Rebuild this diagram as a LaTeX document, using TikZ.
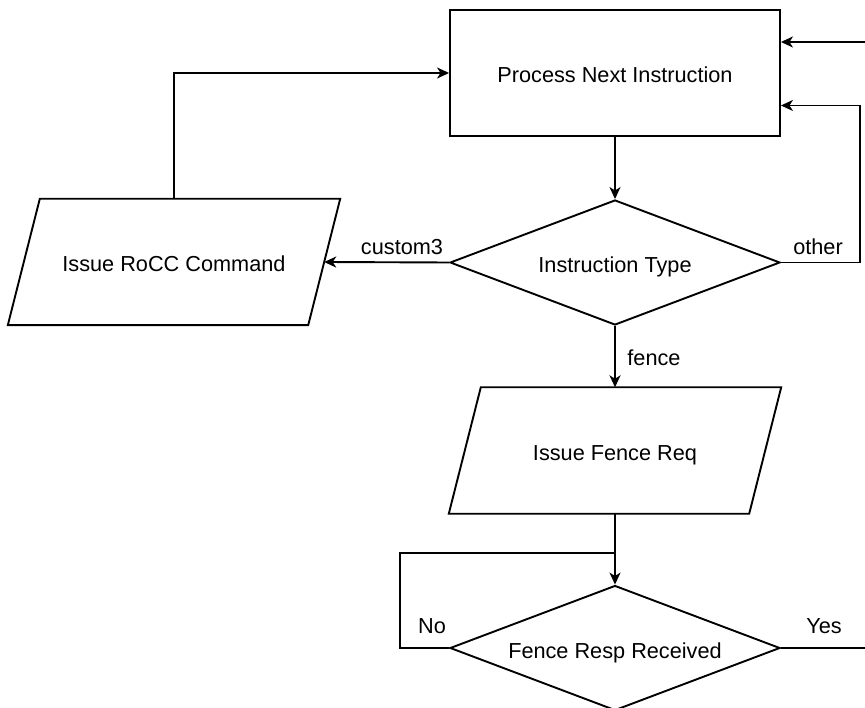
\documentclass[tikz,border=0pt]{standalone}
\usepackage{fontspec}
\setmainfont{Liberation Sans}
\usetikzlibrary{arrows.meta,calc,shapes.geometric}
\begin{document}
\begin{tikzpicture}[x=1pt,y=-1pt,
  every node/.style={font=\fontsize{21.7pt}{26pt}\selectfont},
  boxtext/.style={text height=20pt, text depth=0pt},
  conn/.style={line width=1.9pt, draw=black},
  flow/.style={conn, -{Stealth[length=12pt,width=11pt,inset=3.5pt]}},
  procbox/.style={boxtext, draw, line width=1.9pt, minimum width=330pt, minimum height=126pt, inner sep=0pt},
  decision/.style={boxtext, diamond, aspect=2.64, draw, line width=1.9pt, minimum width=330pt, minimum height=125pt, inner sep=0pt},
  iobox/.style={boxtext, minimum width=300pt, minimum height=126pt, inner sep=0pt},
  ioshape/.style={line width=1.9pt, line join=miter},
  lbl/.style={anchor=base, inner sep=0pt}]

\clip (0,0) rectangle (865,708);

% main nodes
\node[procbox] (pni) at (615,73) {Process Next Instruction};
\node[decision] (itype) at (615,262.5) {Instruction Type};
\node[iobox] (rocc) at (174,262) {Issue RoCC Command};
\node[iobox] (fence) at (615,450.5) {Issue Fence Req};
\node[decision] (resp) at (615,648) {Fence Resp Received};

% slanted outlines of the input/output boxes
\foreach \n in {rocc,fence}{
  \draw[ioshape] ([xshift=16pt]\n.north west) -- ([xshift=16pt]\n.north east)
     -- ([xshift=-16pt]\n.south east) -- ([xshift=-16pt]\n.south west) -- cycle;
}

% free ends at the right border
\coordinate (topin) at (865,42);
\coordinate (yesout) at (865,648);

% connectors
\draw[flow] (topin) -- (topin -| pni.east);
\draw[flow] (pni.south) -- (itype.north);
\draw[flow] (itype.west) -- (rocc.east);
\draw[flow] (rocc.north) |- (pni.west);
\draw[flow] (itype.east) -- ++(79,0) |- ($(pni.north east)!0.754!(pni.south east)$);
\draw[flow] (itype.south) -- (fence.north);
\draw[flow] (fence.south) -- (resp.north);
\draw[conn] (resp.west) -- ++(-49,0) |- ($(fence.south)!0.556!(resp.north)$);
\draw[conn] (resp.east) -- (yesout);

% branch labels
\node[lbl] (lcustom) at (402,255) {custom3};
\node[lbl] (lother) at (818,255) {other};
\node[lbl] (lfence) at (654,366) {fence};
\node[lbl] (lno) at (432,633) {No};
\node[lbl] (lyes) at (824,633) {Yes};
\end{tikzpicture}
\end{document}
